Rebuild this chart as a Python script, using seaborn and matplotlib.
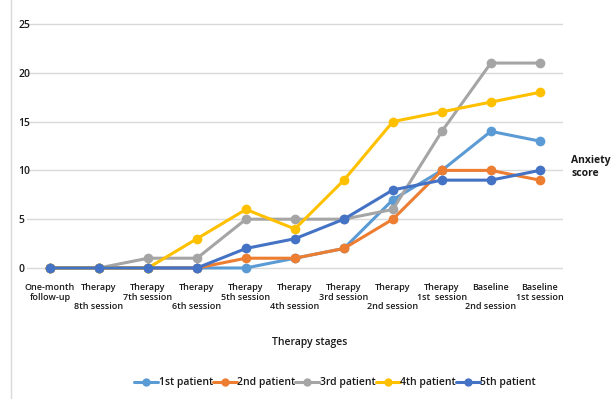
import numpy as np
import pandas as pd
import seaborn as sns
import matplotlib.pyplot as plt
from matplotlib.lines import Line2D

stages = ["One-month\nfollow-up", "Therapy\n\n8th session", "Therapy\n7th session",
          "Therapy\n\n6th session", "Therapy\n5th session", "Therapy\n\n4th session",
          "Therapy\n3rd session", "Therapy\n\n2nd session", "Therapy\n1st  session",
          "Baseline\n\n2nd session", "Baseline\n1st session"]
patients = ["1st patient", "2nd patient", "3rd patient", "4th patient", "5th patient"]
p1 = [0, 0, 0, 0, 0, 1, 2, 7, 10, 14, 13]
p2 = [0, 0, 0, 0, 1, 1, 2, 5, 10, 10, 9]
p3 = [0, 0, 1, 1, 5, 5, 5, 6, 14, 21, 21]
p4 = [0, 0, 0, 3, 6, 4, 9, 15, 16, 17, 18]
p5 = [0, 0, 0, 0, 2, 3, 5, 8, 9, 9, 10]
yticks = [0, 5, 10, 15, 20, 25]
colors = ["#5B9BD5", "#ED7D31", "#A5A5A5", "#FFC000", "#4472C4"]

rows = []
for name, vals in zip(patients, [p1, p2, p3, p4, p5]):
    for i, v in enumerate(vals):
        rows.append({"stage": i, "score": v, "patient": name})
df = pd.DataFrame(rows)

sns.set_theme(style="white")
plt.rcParams['font.family'] = ['Open Sans', 'DejaVu Sans']
txt = "#1a1a1a"

fig = plt.figure(figsize=(6.11, 3.99), dpi=100)
ax = fig.add_axes([0.0442, 0.3186, 0.877, 0.631])

sns.lineplot(data=df, x="stage", y="score", hue="patient", hue_order=patients,
             palette=colors, marker="o", markersize=7, markeredgewidth=0,
             linewidth=2.2, ax=ax, legend=False, clip_on=False)
for ln in ax.lines:
    ln.set_clip_on(False)

ax.set_xlim(-0.47, 10.47)
ax.set_ylim(-0.4, 25.4)
ax.set_yticks(yticks)
ax.set_yticklabels([str(t) for t in yticks], fontsize=7.5, color=txt, fontweight="semibold")
for lab in ax.get_yticklabels():
    lab.set_horizontalalignment("left")
ax.tick_params(axis="y", length=0, pad=6)
ax.set_xticks(range(len(stages)))
ax.set_xticklabels(stages, fontsize=6.5, color=txt, fontweight="semibold", linespacing=1.1)
ax.tick_params(axis="x", length=0, pad=8)
ax.set_xlabel("")
ax.set_ylabel("")
ax.yaxis.grid(True, color="#d9d9d9", linewidth=1)
ax.xaxis.grid(False)
for s in ax.spines.values():
    s.set_visible(False)

fig.text(310 / 611, 1 - 342 / 399, "Therapy stages", ha="center", va="center",
         fontsize=7.5, color=txt, fontweight="semibold")
fig.text(571 / 611, 1 - 167 / 399, "Anxiety\nscore", ha="left", va="center",
         fontsize=7.5, color=txt, fontweight="bold", linespacing=1.3)

fig.add_artist(Line2D([11 / 611, 11 / 611], [0, 1], color="#d9d9d9", linewidth=1))

handles = [Line2D([], [], color=c, marker="o", markersize=6, markeredgewidth=0, linewidth=2.2)
           for c in colors]
fig.legend(handles, patients, loc="center", bbox_to_anchor=(335 / 611, 1 - 383 / 399),
           ncol=5, frameon=False, handlelength=2.3, handletextpad=0.05, columnspacing=0.0,
           prop={"size": 7.5, "weight": "semibold"}, labelcolor=txt)

fig.savefig("out.png", dpi=100, facecolor="white")
